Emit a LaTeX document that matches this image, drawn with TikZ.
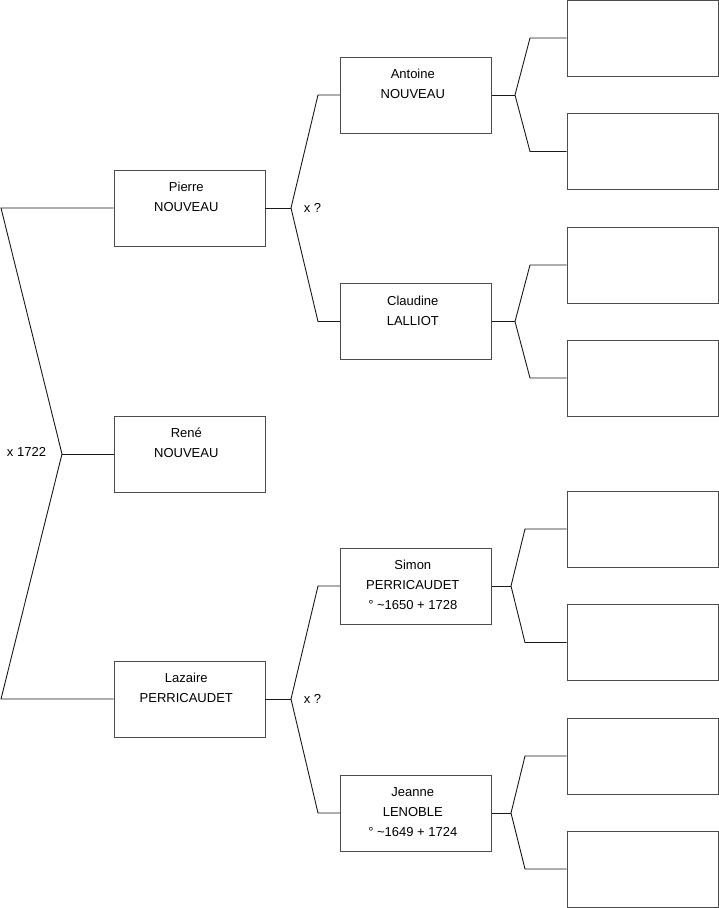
\documentclass[tikz,border=0pt]{standalone}
\usepackage{fontspec}
\setmainfont{Liberation Sans}
\begin{document}
\begin{tikzpicture}[x=1pt,y=-1pt,
  box/.style={draw=black!70,line width=0.9pt,minimum width=151pt,minimum height=76pt,inner sep=0pt,fill=white},
  txt/.style={anchor=north,inner sep=0pt,font=\fontsize{13}{20}\selectfont},
  link/.style={draw=black!90,line width=0.9pt},
  lbl/.style={inner sep=0pt,font=\fontsize{13}{20}\selectfont}]
\useasboundingbox (0,0) rectangle (719,908);
% generation 1
\node[box] (P) at (189.5,208) {};
\node[box] (R) at (189.5,454) {};
\node[box] (L) at (189.5,699) {};
% generation 2
\node[box] (A) at (416,95) {};
\node[box] (C) at (416,321.5) {};
\node[box] (S) at (416,586) {};
\node[box] (J) at (416,813) {};
% generation 3
\node[box] (r1) at (642.5,38) {};
\node[box] (r2) at (642.5,151.5) {};
\node[box] (r3) at (642.5,265) {};
\node[box] (r4) at (642.5,378) {};
\node[box] (r5) at (642.5,529) {};
\node[box] (r6) at (642.5,642.5) {};
\node[box] (r7) at (642.5,756) {};
\node[box] (r8) at (642.5,869) {};
% texts
\newcommand{\boxtext}[3]{\node[txt] (#2) at ([xshift=-3.2pt,yshift=-8pt]#1.north) {\begin{tabular}{c}#3\end{tabular}};}
\boxtext{P}{Pt}{Pierre\\NOUVEAU}
\boxtext{R}{Rt}{René\\NOUVEAU}
\boxtext{L}{Lt}{Lazaire\\PERRICAUDET}
\boxtext{A}{At}{Antoine\\NOUVEAU}
\boxtext{C}{Ct}{Claudine\\LALLIOT}
\boxtext{S}{St}{Simon\\PERRICAUDET\\° \textasciitilde1650 + 1728}
\boxtext{J}{Jt}{Jeanne\\LENOBLE\\° \textasciitilde1649 + 1724}
% coordinates of forks
\coordinate (f0) at (62,454);
\coordinate (f0a) at (1,208);
\coordinate (f0b) at (1,699);
\coordinate (fP) at (291,208);
\coordinate (fPa) at (318,95);
\coordinate (fPb) at (318,321.5);
\coordinate (fL) at (291,699);
\coordinate (fLa) at (318,586);
\coordinate (fLb) at (318,813);
\coordinate (fA) at (515,95);
\coordinate (fAa) at (530,38);
\coordinate (fAb) at (530,151.5);
\coordinate (fC) at (515,321.5);
\coordinate (fCa) at (530,265);
\coordinate (fCb) at (530,378);
\coordinate (fS) at (511,586);
\coordinate (fSa) at (525,529);
\coordinate (fSb) at (525,642.5);
\coordinate (fJ) at (511,813);
\coordinate (fJa) at (525,756);
\coordinate (fJb) at (525,869);
% connectors
\draw[link] (R.west) -- (f0);
\draw[link] (f0) -- (f0a) -- (P.west);
\draw[link] (f0) -- (f0b) -- (L.west);
\draw[link] (P.east) -- (fP);
\draw[link] (fP) -- (fPa) -- (A.west);
\draw[link] (fP) -- (fPb) -- (C.west);
\draw[link] (L.east) -- (fL);
\draw[link] (fL) -- (fLa) -- (S.west);
\draw[link] (fL) -- (fLb) -- (J.west);
\draw[link] (A.east) -- (fA);
\draw[link] (fA) -- (fAa) -- (r1.west);
\draw[link] (fA) -- (fAb) -- (r2.west);
\draw[link] (C.east) -- (fC);
\draw[link] (fC) -- (fCa) -- (r3.west);
\draw[link] (fC) -- (fCb) -- (r4.west);
\draw[link] (S.east) -- (fS);
\draw[link] (fS) -- (fSa) -- (r5.west);
\draw[link] (fS) -- (fSb) -- (r6.west);
\draw[link] (J.east) -- (fJ);
\draw[link] (fJ) -- (fJa) -- (r7.west);
\draw[link] (fJ) -- (fJb) -- (r8.west);
% labels
\node[lbl] (m0) at (26.5,452) {x 1722};
\node[lbl] (mP) at (312.5,207.5) {x ?};
\node[lbl] (mL) at (312.5,698.5) {x ?};
\end{tikzpicture}
\end{document}
